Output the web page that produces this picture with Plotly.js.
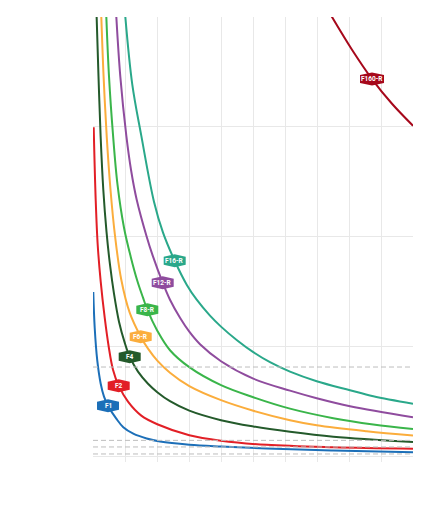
<!DOCTYPE html>
<html>
<head>
<meta charset="utf-8">
<script src="https://cdn.plot.ly/plotly-3.0.1.min.js"></script>
<style>html,body{margin:0;padding:0;background:#fff;}#chart{width:433px;height:518px;}</style>
</head>
<body>
<div id="chart"></div>
<script>
// ---- data ----
const seriesNames = ['F1', 'F2', 'F4', 'F6-R', 'F8-R', 'F12-R', 'F16-R', 'F160-R'];
const seriesColors = ['#1c6fb8', '#e21f26', '#245a2b', '#fbad3c', '#3ab54a', '#8f4c9e', '#2aa88a', '#a6081b'];

const f1X = [0.009, 0.053, 0.134, 0.241, 0.344, 0.469, 0.728, 0.947, 1.259, 1.678, 2.094, 3.009, 4.0, 5.428, 7.509, 10.0];
const f1Y = [1.495, 1.170, 0.870, 0.660, 0.542, 0.460, 0.342, 0.264, 0.205, 0.161, 0.134, 0.105, 0.088, 0.069, 0.051, 0.035];

const f2X = [0.022, 0.084, 0.147, 0.241, 0.366, 0.491, 0.625, 0.803, 1.094, 1.509, 2.009, 3.009, 4.0, 5.428, 7.509, 10.0];
const f2Y = [2.995, 2.336, 1.926, 1.589, 1.261, 0.997, 0.788, 0.642, 0.496, 0.369, 0.291, 0.191, 0.141, 0.103, 0.081, 0.068];

const f4X = [0.113, 0.172, 0.2375, 0.322, 0.422, 0.531, 0.656, 0.8125, 0.991, 1.147, 1.406, 1.719, 2.009, 2.406, 3.009, 4.0, 5.009, 6.156, 7.509, 10.0];
const f4Y = [4.005, 3.459, 2.919, 2.427, 2.045, 1.744, 1.480, 1.225, 1.034, 0.906, 0.770, 0.660, 0.583, 0.501, 0.415, 0.328, 0.271, 0.223, 0.178, 0.129];

const f6X = [0.259, 0.331, 0.431, 0.547, 0.6875, 0.884, 1.147, 1.491, 1.719, 2.009, 2.406, 3.009, 4.0, 5.009, 6.156, 6.991, 8.553, 10.0];
const f6Y = [4.005, 3.459, 2.901, 2.427, 2.008, 1.607, 1.307, 1.088, 0.979, 0.870, 0.760, 0.638, 0.510, 0.414, 0.328, 0.282, 0.228, 0.189];

const f8X = [0.416, 0.5, 0.625, 0.766, 0.969, 1.178, 1.384, 1.5625, 1.697, 2.009, 2.406, 3.009, 4.0, 5.009, 6.156, 7.509, 8.759, 10.0];
const f8Y = [4.005, 3.459, 2.928, 2.473, 2.081, 1.817, 1.598, 1.444, 1.334, 1.143, 0.965, 0.811, 0.647, 0.537, 0.433, 0.346, 0.289, 0.248];

const f12X = [0.728, 0.853, 1.041, 1.1875, 1.366, 1.678, 1.866, 2.178, 2.406, 2.719, 3.009, 3.344, 4.0, 5.009, 6.156, 6.991, 8.031, 10.0];
const f12Y = [4.005, 3.459, 2.919, 2.609, 2.336, 1.999, 1.826, 1.580, 1.425, 1.261, 1.134, 1.020, 0.865, 0.706, 0.597, 0.528, 0.455, 0.355];

const f16X = [1.009, 1.228, 1.509, 1.906, 2.188, 2.553, 2.928, 3.241, 3.656, 4.0, 4.5, 5.009, 5.531, 6.156, 6.991, 8.031, 8.759, 10.0];
const f16Y = [4.005, 3.384, 2.919, 2.318, 2.036, 1.780, 1.562, 1.425, 1.280, 1.180, 1.056, 0.947, 0.856, 0.770, 0.683, 0.601, 0.546, 0.478];

const f160X = [7.459, 8.094, 8.719, 9.344, 10.0];
const f160Y = [4.005, 3.702, 3.435, 3.210, 3.010];

// index of the point carrying each series' badge
const labelIndex = [5, 7, 9, 7, 8, 7, 5, 2];

// reference (dashed) levels
const refLevels = [0.812, 0.144, 0.084, 0.020];

// ---- build ----
const xs = [f1X, f2X, f4X, f6X, f8X, f12X, f16X, f160X];
const ys = [f1Y, f2Y, f4Y, f6Y, f8Y, f12Y, f16Y, f160Y];

const traces = seriesNames.map((n, i) => ({
  type: 'scatter', mode: 'lines', name: n,
  x: xs[i], y: ys[i],
  line: {color: seriesColors[i], width: 2, shape: 'spline', smoothing: 1},
  hoverinfo: 'skip', showlegend: false, cliponaxis: true
}));

const shapes = [];
// white patch covering the grid (below traces)
shapes.push({type: 'rect', layer: 'below', xref: 'x', yref: 'y',
  x0: 7.78, x1: 9.97, y0: 0.788, y1: 1.061,
  fillcolor: '#ffffff', line: {width: 0}});

refLevels.forEach(v => shapes.push({
  type: 'line', layer: 'above', xref: 'paper', yref: 'y',
  x0: 0, x1: 1, y0: v, y1: v,
  line: {color: '#bdbdbd', width: 1, dash: '5px,3px'}
}));

const annotations = [];
seriesNames.forEach((n, i) => {
  const lx = xs[i][labelIndex[i]], ly = ys[i][labelIndex[i]];
  const w = n.length > 5 ? 12 : 11;
  shapes.push({
    type: 'path', layer: 'above', xref: 'x', yref: 'y',
    xsizemode: 'pixel', ysizemode: 'pixel', xanchor: lx, yanchor: ly,
    path: `M${-w},-4 L0,-6.5 L${w},-4 L${w},4 L0,6.5 L${-w},4 Z`,
    fillcolor: seriesColors[i], line: {width: 0}
  });
  annotations.push({
    x: lx, y: ly, xref: 'x', yref: 'y', text: '<b>' + n + '</b>',
    showarrow: false, font: {family: 'Roboto, Arial, sans-serif', size: 6.5, color: '#ffffff'},
    xanchor: 'center', yanchor: 'middle'
  });
});

const layout = {
  width: 433, height: 518,
  margin: {l: 93, r: 20, t: 17, b: 56},
  paper_bgcolor: '#ffffff', plot_bgcolor: '#ffffff',
  showlegend: false,
  xaxis: {range: [0, 10], dtick: 1, tick0: 0, showgrid: true, gridcolor: '#e8e8e8', gridwidth: 1,
          zeroline: false, showline: false, showticklabels: false, ticks: ''},
  yaxis: {range: [-0.053, 4.0], dtick: 1, tick0: 0, showgrid: true, gridcolor: '#e8e8e8', gridwidth: 1,
          zeroline: false, showline: false, showticklabels: false, ticks: ''},
  shapes: shapes,
  annotations: annotations
};

Plotly.newPlot('chart', traces, layout, {displayModeBar: false, staticPlot: true});
</script>
</body>
</html>
